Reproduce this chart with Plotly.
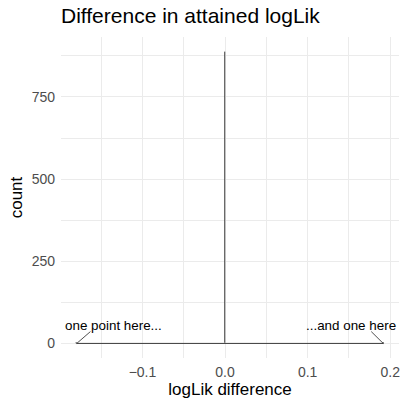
import plotly.graph_objects as go

# Histogram of logLik differences (bin centres and counts, binwidth 0.001)
bin_centers = [-0.1795, 0.0, 0.1915]
bin_counts = [1, 888, 1]
bin_width = 0.001

x_ticks = [-0.1, 0.0, 0.1, 0.2]
x_tick_labels = ["\u22120.1", "0.0", "0.1", "0.2"]
y_ticks = [0, 250, 500, 750]

labels = ["one point here...", "...and one here"]
label_x = [-0.1355, 0.152]
label_y = [55, 55]
seg_x = [-0.163, 0.177]
seg_y = [36, 36]

x_lo = bin_centers[0] - bin_width / 2
x_hi = bin_centers[-1] + bin_width / 2
span = x_hi - x_lo
x_range = [x_lo - 0.05 * span, x_hi + 0.05 * span]
y_max = max(bin_counts)
y_range = [-0.05 * y_max, 1.05 * y_max]

FONT = "Liberation Sans, Arial, sans-serif"

fig = go.Figure()

# outline of the empty bins along the baseline
fig.add_trace(go.Scatter(
    x=[x_lo, x_hi], y=[0, 0], mode="lines",
    line=dict(color="#3a3a3a", width=1), hoverinfo="skip", showlegend=False,
))

fig.add_trace(go.Bar(
    x=bin_centers, y=bin_counts, width=bin_width,
    marker=dict(color="#595959", line=dict(color="#333333", width=0.6)),
    showlegend=False,
))

for txt, tx, ty, sx, sy, px in zip(labels, label_x, label_y, seg_x, seg_y,
                                   [bin_centers[0], bin_centers[-1]]):
    fig.add_annotation(x=tx, y=ty, text=txt, showarrow=False,
                       font=dict(family=FONT, size=13.4, color="black"))
    fig.add_shape(type="line", x0=px, y0=0, x1=sx, y1=sy,
                  line=dict(color="#222222", width=0.8))

grid = "#ebebeb"
fig.update_layout(
    template="none",
    width=403, height=401,
    margin=dict(l=61, r=4, t=37, b=43),
    paper_bgcolor="white", plot_bgcolor="white",
    font=dict(family=FONT, color="black"),
    title=dict(text="Difference in attained logLik", x=61 / 403, xanchor="left",
               y=1 - 16 / 401, yanchor="middle",
               font=dict(size=21, color="black")),
    bargap=0,
    xaxis=dict(
        range=x_range, tickvals=x_ticks, ticktext=x_tick_labels,
        showgrid=True, gridcolor=grid, gridwidth=1,
        minor=dict(dtick=0.05, tick0=0.05, showgrid=True, gridcolor=grid, gridwidth=0.6),
        zeroline=False, showline=False, ticks="", ticklabelstandoff=4,
        tickfont=dict(family=FONT, size=14, color="#4d4d4d"),
        title=dict(text="logLik difference", font=dict(family=FONT, size=17, color="black"),
                   standoff=3),
    ),
    yaxis=dict(
        range=y_range, tickvals=y_ticks,
        showgrid=True, gridcolor=grid, gridwidth=1,
        minor=dict(dtick=125, tick0=125, showgrid=True, gridcolor=grid, gridwidth=0.6),
        zeroline=False, showline=False, ticks="", ticklabelstandoff=5,
        tickfont=dict(family=FONT, size=14, color="#4d4d4d"),
        title=dict(text="count", font=dict(family=FONT, size=17, color="black"), standoff=4),
    ),
)

fig.write_html("out.html")
